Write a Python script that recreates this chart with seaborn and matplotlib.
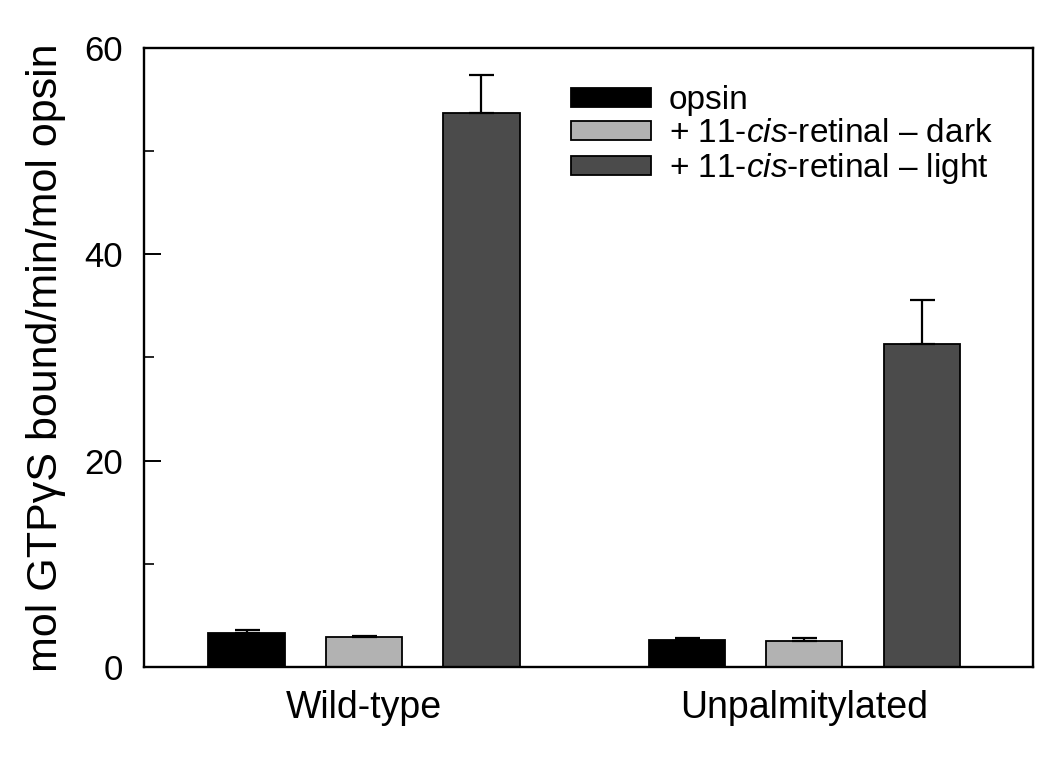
import pandas as pd
import matplotlib
matplotlib.use("Agg")
import matplotlib.pyplot as plt
import seaborn as sns

# Values
groups = ["Wild-type", "Unpalmitylated"]
conditions = ["opsin",
              "+ 11-$\\it{cis}$-retinal \u2013 dark",
              "+ 11-$\\it{cis}$-retinal \u2013 light"]
opsin_vals = [3.3, 2.6]
opsin_err = [0.3, 0.2]
dark_vals = [2.9, 2.5]
dark_err = [0.1, 0.3]
light_vals = [53.7, 31.3]
light_err = [3.7, 4.3]

colors = ["#000000", "#b2b2b2", "#4b4b4b"]

df = pd.DataFrame({
    "group": groups * 3,
    "condition": [c for c in conditions for _ in groups],
    "value": opsin_vals + dark_vals + light_vals,
})
errs = [opsin_err, dark_err, light_err]

sns.set_theme(style="ticks")
plt.rcParams["font.family"] = ["Liberation Sans", "DejaVu Sans"]
plt.rcParams["mathtext.fontset"] = "custom"
plt.rcParams["mathtext.rm"] = "Liberation Sans"
plt.rcParams["mathtext.it"] = "Liberation Sans:italic"
plt.rcParams["text.color"] = "black"
plt.rcParams["axes.labelcolor"] = "black"

fig = plt.figure(figsize=(10.5, 7.62), dpi=100)
ax = fig.add_axes([0.137, 0.125, 0.847, 0.812])

sns.barplot(data=df, x="group", y="value", hue="condition", hue_order=conditions,
            order=groups, palette=colors, errorbar=None, gap=0.35,
            edgecolor="black", linewidth=1.3, saturation=1, ax=ax)

# upward-only error bars
for cont, err in zip(ax.containers, errs):
    for bar, e in zip(cont, err):
        xc = bar.get_x() + bar.get_width() / 2
        ax.errorbar(xc, bar.get_height(), yerr=[[0], [e]], fmt="none",
                    ecolor="black", elinewidth=1.6, capsize=9, capthick=1.6)

ax.set_xlim(-0.5, 1.52)
ax.set_ylim(0, 60)
ax.set_yticks([0, 20, 40, 60])
ax.set_yticks([10, 30, 50], minor=True)
ax.tick_params(axis="y", which="major", direction="in", length=12, width=1.4,
               labelsize=25, pad=15, colors="black")
ax.tick_params(axis="y", which="minor", direction="in", length=7, width=1.4)
ax.tick_params(axis="x", length=0, labelsize=27, pad=17, colors="black")
for s in ax.spines.values():
    s.set_visible(True)
    s.set_linewidth(1.7)
    s.set_color("black")

ax.set_xlabel("")
ax.set_ylabel("mol GTP\u03b3S bound/min/mol opsin", fontsize=31, color="black")
ax.yaxis.set_label_coords(-0.088, 0.5)

leg = ax.legend(loc="upper left", bbox_to_anchor=(0.465, 0.962), frameon=False,
                fontsize=24, handlelength=2.4, handleheight=0.5,
                labelspacing=0.06, handletextpad=0.55, borderaxespad=0)
for t in leg.get_texts():
    t.set_color("black")

fig.savefig("out.png", dpi=100)
